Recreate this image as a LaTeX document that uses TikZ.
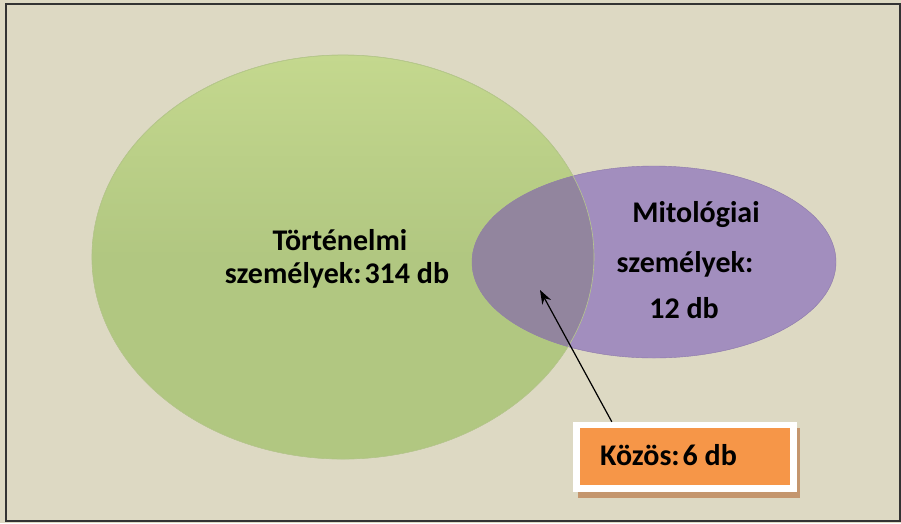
\documentclass[tikz,border=0pt]{standalone}
\usepackage{fontspec}
\setmainfont{Carlito}
\usetikzlibrary{shapes.geometric,arrows.meta}

\definecolor{bgtan}{RGB}{221,217,195}
\definecolor{histtop}{RGB}{196,216,142}
\definecolor{histgreen}{RGB}{177,199,129}
\definecolor{histrim}{RGB}{165,186,115}
\definecolor{mitpurple}{RGB}{162,142,190}
\definecolor{mitrim}{RGB}{140,120,170}
\definecolor{overlap}{RGB}{146,133,158}
\definecolor{kozorange}{RGB}{246,150,72}
\definecolor{kozshadow}{RGB}{196,150,110}

\tikzset{
  settext/.style={font=\fontsize{30}{33}\selectfont\bfseries, inner sep=0pt, anchor=base},
  setbox/.style={ellipse, inner sep=0pt},
}

\begin{document}
\begin{tikzpicture}[x=1pt,y=-1pt]
 \fill[bgtan] (0,0) rectangle (901,523);
 \useasboundingbox (0,0) rectangle (901,523);
 \draw[line width=2pt, black!80] (6,4) rectangle (900,521);

 % the two sets
 \node[setbox, top color=histtop, bottom color=histgreen, middle color=histgreen, draw=histrim, minimum width=502pt, minimum height=404pt] (hist) at (343,257) {};
 \node[setbox, fill=mitpurple, draw=mitrim, minimum width=364pt, minimum height=192pt] (mit) at (654,262) {};
 \begin{scope}
  \clip (343,257) ellipse (251 and 202);
  \fill[overlap] (654,262) ellipse (182 and 96);
 \end{scope}
 \draw[histrim!80!white, line width=0.6pt] (343,257) ellipse (251 and 202);

 \node[settext] (histone) at (340,250) {Történelmi};
 \node[settext] (histtwo) at (337,283) {személyek:\kern3pt 314 db};
 \node[settext] (mitone) at (696,222) {Mitológiai};
 \node[settext] (mittwo) at (685,272) {személyek:};
 \node[settext] (mitthree) at (684,318) {12 db};

 % the common part
 \fill[kozshadow] (578,428) rectangle (800,498);
 \node[fill=white, minimum width=224pt, minimum height=70pt, inner sep=0pt] (kozframe) at (685,457) {};
 \node[fill=kozorange, minimum width=210pt, minimum height=57pt, inner sep=0pt] (koz) at (685,456) {};
 \node[settext, anchor=base west] (koztext) at (600,465) {Közös:\kern3pt 6 db};

 \coordinate (tip) at (540,290);
 \draw[line width=1.2pt, -{Stealth[length=14pt,width=10pt]}] ([xshift=39pt]kozframe.north west) -- (tip);
\end{tikzpicture}
\end{document}
